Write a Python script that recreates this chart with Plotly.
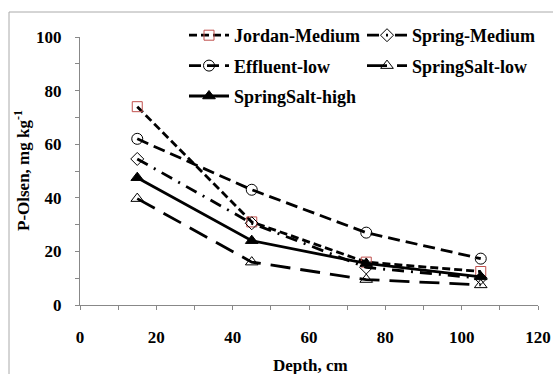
import plotly.graph_objects as go

depth = [15, 45, 75, 105]
jordan_medium = [74, 31, 16, 12.5]
spring_medium = [54.5, 30.5, 14, 10]
effluent_low = [62, 43, 27, 17.3]
springsalt_low = [39.7, 16, 9.5, 7.5]
springsalt_high = [47.5, 24, 15.5, 10.5]

x_ticks = [0, 20, 40, 60, 80, 100, 120]
y_ticks = [0, 20, 40, 60, 80, 100]

names = ["Jordan-Medium", "Spring-Medium", "Effluent-low", "SpringSalt-low", "SpringSalt-high"]
series = [jordan_medium, spring_medium, effluent_low, springsalt_low, springsalt_high]
legends = ["legend", "legend2", "legend", "legend2", "legend"]
dashes = ["8px,4px", "12px,7px,2px,7px", "12px,6px", "20px,10px", "solid"]
markers = [
    dict(symbol="square-open", size=10, color="#C0504D", line=dict(width=1, color="#C0504D")),
    dict(symbol="diamond-open", size=10, color="black", line=dict(width=1, color="black")),
    dict(symbol="circle-open", size=11, color="black", line=dict(width=1, color="black")),
    dict(symbol="triangle-up-open", size=11, color="black", line=dict(width=1, color="black")),
    dict(symbol="triangle-up", size=11, color="black", line=dict(width=1, color="black")),
]

fig = go.Figure()
for n, s, d, m, lg in zip(names, series, dashes, markers, legends):
    fig.add_trace(go.Scatter(x=depth, y=s, name="<b>" + n + "</b>", mode="lines+markers",
                             legend=lg, legendgroup=n,
                             line=dict(color="black", width=2.8, dash=d), marker=m))

FAM = "Liberation Serif, Times New Roman, Times, serif"
font = dict(family=FAM, size=17, color="black")
leg_common = dict(orientation="v", xanchor="left", yanchor="top", bgcolor="rgba(0,0,0,0)",
                  font=dict(family=FAM, size=18, color="black"), itemwidth=40,
                  tracegroupgap=4, y=(305 - 17) / 268)
fig.update_layout(
    width=553, height=374,
    margin=dict(l=80, r=15, t=37, b=69, autoexpand=False),
    paper_bgcolor="white", plot_bgcolor="white",
    font=font,
    showlegend=True,
    legend=dict(x=(184 - 80) / 458, **leg_common),
    legend2=dict(x=(362 - 80) / 458, **leg_common),
    xaxis=dict(range=[0, 120], tickvals=x_ticks, ticktext=["<b>%d</b>" % v for v in x_ticks],
               showgrid=False, zeroline=False,
               showline=True, linecolor="#888", linewidth=1,
               ticks="outside", ticklen=4, tickcolor="#888",
               minor=dict(dtick=10, ticks="outside", ticklen=4, tickcolor="#888"),
               tickfont=dict(family=FAM, size=17), ticklabelstandoff=13),
    yaxis=dict(range=[0, 100], tickvals=y_ticks, ticktext=["<b>%d</b>" % v for v in y_ticks],
               showgrid=False, zeroline=False,
               showline=True, linecolor="#888", linewidth=1,
               ticks="outside", ticklen=4, tickcolor="#888",
               minor=dict(dtick=10, ticks="outside", ticklen=4, tickcolor="#888"),
               tickfont=dict(family=FAM, size=17), ticklabelstandoff=10),
    annotations=[
        dict(text="<b>Depth, cm</b>", xref="paper", yref="paper",
             x=(310 - 80) / 458, y=(305 - 365) / 268, xanchor="center", yanchor="middle",
             showarrow=False, font=font),
        dict(text="<b>P-Olsen, mg kg<sup>-1</sup></b>", xref="paper", yref="paper",
             x=(22 - 80) / 458, y=0.5, xanchor="center", yanchor="middle", textangle=-90,
             showarrow=False, font=font),
    ],
    shapes=[
        dict(type="line", xref="paper", yref="paper", x0=(9 - 80) / 458, x1=1.2,
             y0=(305 - 12) / 268, y1=(305 - 12) / 268, line=dict(color="#aaa", width=1)),
        dict(type="line", xref="paper", yref="paper", x0=(9 - 80) / 458, x1=(9 - 80) / 458,
             y0=(305 - 12) / 268, y1=-0.4, line=dict(color="#aaa", width=1)),
    ],
)
fig.write_html("out.html", config={"displayModeBar": False},
               post_script="document.body.style.margin='0';document.body.style.overflow='hidden';")
